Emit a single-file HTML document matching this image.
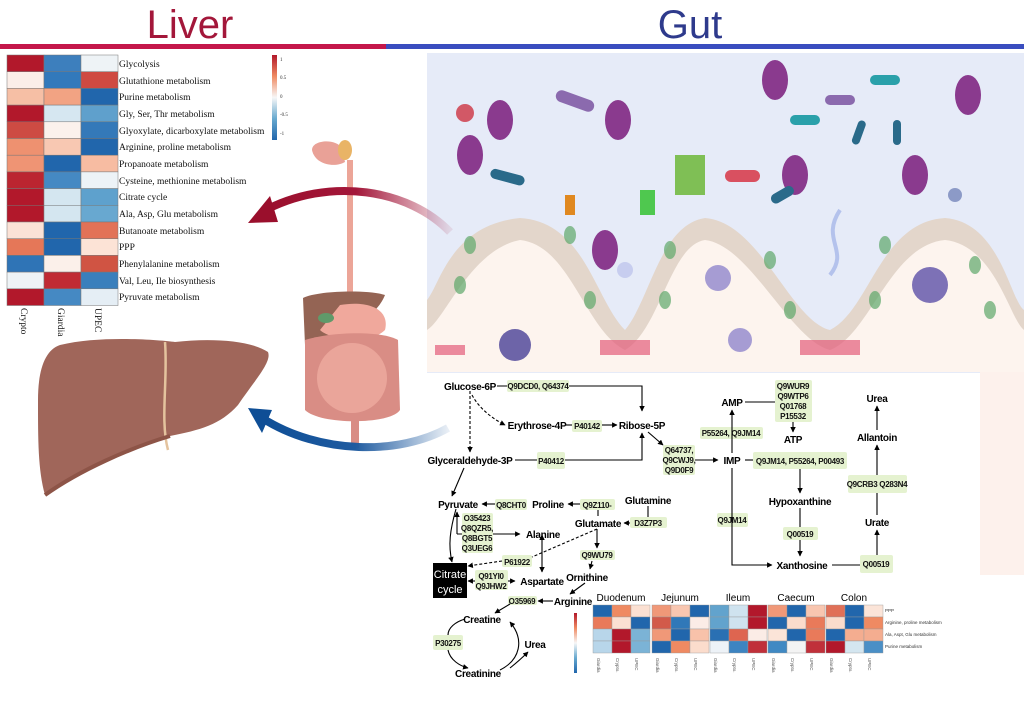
<!DOCTYPE html>
<html><head><meta charset="utf-8"><style>
html,body{margin:0;padding:0;background:#fff}
svg{display:block}
.t{font-family:"Liberation Sans",Arial,sans-serif;font-weight:bold;font-size:10px;letter-spacing:-0.3px;fill:#000}
.p{font-family:"Liberation Sans",Arial,sans-serif;font-weight:bold;font-size:8px;letter-spacing:-0.3px;fill:#111}
.s{font-family:"Liberation Serif",serif;font-size:9.5px;fill:#111}
</style></head><body>
<svg width="1024" height="717" viewBox="0 0 1024 717" xmlns="http://www.w3.org/2000/svg">
<defs>
<marker id="a" viewBox="0 0 10 10" refX="9" refY="5" markerWidth="5" markerHeight="5" orient="auto"><path d="M0,0L10,5L0,10z" fill="#000"/></marker>
<linearGradient id="rg" x1="1" y1="0" x2="0" y2="0"><stop offset="0" stop-color="#a3173a" stop-opacity="0.1"/><stop offset="0.5" stop-color="#a3173a"/><stop offset="1" stop-color="#9a0f2c"/></linearGradient>
<linearGradient id="bg" x1="1" y1="0" x2="0" y2="0"><stop offset="0" stop-color="#1f5ba0" stop-opacity="0.1"/><stop offset="0.5" stop-color="#1f5ba0"/><stop offset="1" stop-color="#0e4e96"/></linearGradient>
<linearGradient id="cb" x1="0" y1="0" x2="0" y2="1"><stop offset="0" stop-color="#b2182b"/><stop offset="0.25" stop-color="#ef8a62"/><stop offset="0.5" stop-color="#f7f7f7"/><stop offset="0.75" stop-color="#67a9cf"/><stop offset="1" stop-color="#2166ac"/></linearGradient>
</defs>
<!-- header -->
<text x="190" y="38" text-anchor="middle" font-family="Liberation Sans,sans-serif" font-size="40" fill="#a3173a">Liver</text>
<text x="690" y="38" text-anchor="middle" font-family="Liberation Sans,sans-serif" font-size="40" fill="#2e3a8c">Gut</text>
<rect x="0" y="44" width="386" height="5" fill="#c4174a"/>
<rect x="386" y="44" width="638" height="5" fill="#3a4dbf"/>

<!-- left heatmap -->
<g stroke="#777" stroke-width="0.5">
<rect x="7" y="55" width="37" height="16.7" fill="#b2182b"/><rect x="44" y="55" width="37" height="16.7" fill="#3d7fbd"/><rect x="81" y="55" width="37" height="16.7" fill="#eef3f6"/>
<rect x="7" y="71.7" width="37" height="16.7" fill="#fbeee8"/><rect x="44" y="71.7" width="37" height="16.7" fill="#3279bb"/><rect x="81" y="71.7" width="37" height="16.7" fill="#cf4a41"/>
<rect x="7" y="88.4" width="37" height="16.7" fill="#f6bfa5"/><rect x="44" y="88.4" width="37" height="16.7" fill="#f2a383"/><rect x="81" y="88.4" width="37" height="16.7" fill="#2166ac"/>
<rect x="7" y="105.1" width="37" height="16.7" fill="#b2182b"/><rect x="44" y="105.1" width="37" height="16.7" fill="#d6e7f1"/><rect x="81" y="105.1" width="37" height="16.7" fill="#5fa0cc"/>
<rect x="7" y="121.8" width="37" height="16.7" fill="#cd4b43"/><rect x="44" y="121.8" width="37" height="16.7" fill="#fbf1ec"/><rect x="81" y="121.8" width="37" height="16.7" fill="#3479b9"/>
<rect x="7" y="138.5" width="37" height="16.7" fill="#ee9170"/><rect x="44" y="138.5" width="37" height="16.7" fill="#f8c8b2"/><rect x="81" y="138.5" width="37" height="16.7" fill="#2166ac"/>
<rect x="7" y="155.2" width="37" height="16.7" fill="#ef9474"/><rect x="44" y="155.2" width="37" height="16.7" fill="#2166ac"/><rect x="81" y="155.2" width="37" height="16.7" fill="#f7bca2"/>
<rect x="7" y="171.9" width="37" height="16.7" fill="#bb2530"/><rect x="44" y="171.9" width="37" height="16.7" fill="#4589c3"/><rect x="81" y="171.9" width="37" height="16.7" fill="#edf3f7"/>
<rect x="7" y="188.6" width="37" height="16.7" fill="#b2182b"/><rect x="44" y="188.6" width="37" height="16.7" fill="#d4e6f0"/><rect x="81" y="188.6" width="37" height="16.7" fill="#5ea1cd"/>
<rect x="7" y="205.3" width="37" height="16.7" fill="#b2182b"/><rect x="44" y="205.3" width="37" height="16.7" fill="#d4e6f0"/><rect x="81" y="205.3" width="37" height="16.7" fill="#68a8d0"/>
<rect x="7" y="222" width="37" height="16.7" fill="#fbe2d6"/><rect x="44" y="222" width="37" height="16.7" fill="#2166ac"/><rect x="81" y="222" width="37" height="16.7" fill="#e27257"/>
<rect x="7" y="238.7" width="37" height="16.7" fill="#e57758"/><rect x="44" y="238.7" width="37" height="16.7" fill="#2166ac"/><rect x="81" y="238.7" width="37" height="16.7" fill="#fce3d6"/>
<rect x="7" y="255.4" width="37" height="16.7" fill="#2f74b6"/><rect x="44" y="255.4" width="37" height="16.7" fill="#fbf0ea"/><rect x="81" y="255.4" width="37" height="16.7" fill="#d05443"/>
<rect x="7" y="272.1" width="37" height="16.7" fill="#eef3f6"/><rect x="44" y="272.1" width="37" height="16.7" fill="#c02a33"/><rect x="81" y="272.1" width="37" height="16.7" fill="#3a7fbc"/>
<rect x="7" y="288.8" width="37" height="16.7" fill="#b2182b"/><rect x="44" y="288.8" width="37" height="16.7" fill="#4589c3"/><rect x="81" y="288.8" width="37" height="16.7" fill="#e5eef5"/>
</g>
<g class="s">
<text x="119" y="67">Glycolysis</text><text x="119" y="84">Glutathione metabolism</text><text x="119" y="100">Purine metabolism</text>
<text x="119" y="117">Gly, Ser, Thr metabolism</text><text x="119" y="134">Glyoxylate, dicarboxylate metabolism</text><text x="119" y="150">Arginine, proline metabolism</text>
<text x="119" y="167">Propanoate metabolism</text><text x="119" y="184">Cysteine, methionine metabolism</text><text x="119" y="200">Citrate cycle</text>
<text x="119" y="217">Ala, Asp, Glu metabolism</text><text x="119" y="234">Butanoate metabolism</text><text x="119" y="250">PPP</text>
<text x="119" y="267">Phenylalanine metabolism</text><text x="119" y="284">Val, Leu, Ile biosynthesis</text><text x="119" y="300">Pyruvate metabolism</text>
<text transform="translate(21,308) rotate(90)">Crypto</text><text transform="translate(58,308) rotate(90)">Giardia</text><text transform="translate(95,308) rotate(90)">UPEC</text>
</g>
<rect x="272" y="55" width="5" height="85" fill="url(#cb)"/>
<g font-family="Liberation Serif" font-size="5" fill="#333"><text x="280" y="61">1</text><text x="280" y="79">0.5</text><text x="280" y="98">0</text><text x="280" y="116">-0.5</text><text x="280" y="135">-1</text></g>

<!-- gut panel -->
<rect x="427" y="53" width="597" height="320" fill="#e6ebf8"/>
<path d="M427,372 L427,300 C440,285 450,225 520,218 C585,222 595,300 625,330 C650,300 660,225 705,218 C760,222 790,320 830,330 C870,310 880,222 945,218 C1000,222 1010,300 1024,310 L1024,372 Z" fill="#e3d6cb"/>
<path d="M427,372 L427,330 C445,320 470,250 520,240 C570,245 585,330 625,350 C660,330 670,245 705,240 C750,245 790,340 830,350 C870,335 890,245 945,240 C995,245 1010,320 1024,330 L1024,372 Z" fill="#fdf4ee"/>
<g fill="#5ea86a" opacity="0.7"><ellipse cx="470" cy="245" rx="6" ry="9"/><ellipse cx="460" cy="285" rx="6" ry="9"/><ellipse cx="570" cy="235" rx="6" ry="9"/><ellipse cx="590" cy="300" rx="6" ry="9"/><ellipse cx="670" cy="250" rx="6" ry="9"/><ellipse cx="665" cy="300" rx="6" ry="9"/><ellipse cx="770" cy="260" rx="6" ry="9"/><ellipse cx="790" cy="310" rx="6" ry="9"/><ellipse cx="885" cy="245" rx="6" ry="9"/><ellipse cx="875" cy="300" rx="6" ry="9"/><ellipse cx="975" cy="265" rx="6" ry="9"/><ellipse cx="990" cy="310" rx="6" ry="9"/></g>
<g fill="#e25c7a" opacity="0.7"><rect x="435" y="345" width="30" height="10"/><rect x="600" y="340" width="50" height="15"/><rect x="800" y="340" width="60" height="15"/></g>
<g fill="#8a3a8e"><ellipse cx="500" cy="120" rx="13" ry="20"/><ellipse cx="470" cy="155" rx="13" ry="20"/><ellipse cx="618" cy="120" rx="13" ry="20"/><ellipse cx="775" cy="80" rx="13" ry="20"/><ellipse cx="795" cy="175" rx="13" ry="20"/><ellipse cx="915" cy="175" rx="13" ry="20"/><ellipse cx="968" cy="95" rx="13" ry="20"/><ellipse cx="605" cy="250" rx="13" ry="20"/></g>
<g fill="#8b6aae"><rect x="555" y="95" width="40" height="12" rx="6" transform="rotate(20 575 101)"/><rect x="825" y="95" width="30" height="10" rx="5"/></g>
<g fill="#2a6a8a"><rect x="490" y="172" width="35" height="10" rx="5" transform="rotate(15 507 177)"/><rect x="855" y="120" width="8" height="25" rx="4" transform="rotate(20 859 132)"/><rect x="893" y="120" width="8" height="25" rx="4"/><rect x="770" y="190" width="25" height="10" rx="5" transform="rotate(-30 782 195)"/></g>
<g fill="#2aa0aa"><rect x="790" y="115" width="30" height="10" rx="5"/><rect x="870" y="75" width="30" height="10" rx="5"/></g>
<rect x="725" y="170" width="35" height="12" rx="6" fill="#d95060"/>
<rect x="675" y="155" width="30" height="40" fill="#7fbf55"/>
<rect x="640" y="190" width="15" height="25" fill="#4fc84f"/>
<rect x="565" y="195" width="10" height="20" fill="#e08820"/>
<circle cx="465" cy="113" r="9" fill="#d25866"/>
<circle cx="625" cy="270" r="8" fill="#c7cdef"/>
<circle cx="718" cy="278" r="13" fill="#a69cd3"/><circle cx="740" cy="340" r="12" fill="#a69cd3"/>
<circle cx="930" cy="285" r="18" fill="#7d71b6"/><circle cx="515" cy="345" r="16" fill="#6d64a8"/>
<circle cx="955" cy="195" r="7" fill="#8c9ac7"/>
<path d="M840,210 C820,240 850,250 830,275" stroke="#b4c2ec" stroke-width="4" fill="none"/>

<rect x="980" y="372" width="44" height="203" fill="#fdf1ec"/>

<!-- liver -->
<path d="M60,345 C100,335 160,340 175,342 C210,338 250,340 268,352 C272,362 255,380 238,405 C220,425 200,430 170,436 C130,445 80,470 45,495 C38,470 38,440 38,400 C38,370 45,350 60,345 Z" fill="#a0665a"/>
<path d="M165,342 C168,380 160,420 168,450" stroke="#e4c39e" stroke-width="2.5" fill="none"/>
<path d="M45,495 C80,470 130,448 170,436" stroke="#8d5447" stroke-width="4" fill="none"/>

<!-- organs -->
<path d="M312,150 C312,140 335,138 342,148 L345,162 C335,168 315,165 312,150Z" fill="#e9a197"/>
<ellipse cx="345" cy="150" rx="7" ry="10" fill="#e9b466"/>
<path d="M350,160 L350,295" stroke="#eca598" stroke-width="6" fill="none"/>
<path d="M303,298 C320,290 370,290 385,295 C375,320 345,330 305,345 Z" fill="#946454"/>
<path d="M340,305 C370,300 390,310 385,330 C370,345 330,340 320,330 Z" fill="#f0a89c"/>
<path d="M305,340 C330,332 380,330 398,340 L400,410 C390,425 320,425 305,410 Z" fill="#d98d85"/>
<ellipse cx="352" cy="378" rx="35" ry="35" fill="#eaa59a"/>
<path d="M355,420 L355,448" stroke="#d98d85" stroke-width="8" fill="none"/>
<ellipse cx="326" cy="318" rx="8" ry="5" fill="#5f9a6a"/>

<!-- arrows -->
<path d="M450,232 C410,190 330,175 262,212" stroke="url(#rg)" stroke-width="8" fill="none"/>
<path d="M248,223 L270,196 L278,222 Z" fill="#9a0f2c"/>
<path d="M448,428 C400,455 320,455 262,418" stroke="url(#bg)" stroke-width="8" fill="none"/>
<path d="M248,408 L272,410 L262,433 Z" fill="#0e4e96"/>

<!-- pathway -->
<g fill="#e5f2d0">
<rect x="507" y="380" width="62" height="12" rx="2"/>
<rect x="572" y="420" width="30" height="12" rx="2"/>
<rect x="537" y="452" width="28" height="17" rx="2"/>
<rect x="663" y="445" width="32" height="30" rx="2"/>
<rect x="753" y="452" width="94" height="17" rx="2"/>
<rect x="775" y="380" width="37" height="42" rx="2"/>
<rect x="700" y="427" width="63" height="12" rx="2"/>
<rect x="848" y="475" width="59" height="18" rx="2"/>
<rect x="783" y="527" width="35" height="13" rx="2"/>
<rect x="860" y="555" width="33" height="18" rx="2"/>
<rect x="717" y="513" width="31" height="14" rx="2"/>
<rect x="495" y="499" width="32" height="11" rx="2"/>
<rect x="580" y="499" width="35" height="11" rx="2"/>
<rect x="630" y="517" width="37" height="11" rx="2"/>
<rect x="462" y="513" width="31" height="40" rx="2"/>
<rect x="502" y="555" width="30" height="12" rx="2"/>
<rect x="580" y="550" width="35" height="10" rx="2"/>
<rect x="475" y="570" width="33" height="20" rx="2"/>
<rect x="508" y="596" width="29" height="9" rx="2"/>
<rect x="433" y="635" width="30" height="15" rx="2"/>
</g>
<rect x="433" y="563" width="34" height="35" fill="#000"/>
<text x="450" y="578" text-anchor="middle" font-family="Liberation Sans" font-size="11" fill="#fff">Citrate</text>
<text x="450" y="593" text-anchor="middle" font-family="Liberation Sans" font-size="11" fill="#fff">cycle</text>

<g stroke="#000" stroke-width="1.1" fill="none">
<path d="M497,386 L507,386 M569,386 L642,386 L642,411" marker-end="url(#a)"/>
<path d="M470,391 L470,452" stroke-dasharray="3,2" marker-end="url(#a)"/>
<path d="M472,395 C480,410 495,420 505,425" stroke-dasharray="3,2" marker-end="url(#a)"/>
<path d="M566,425 L572,425"/><path d="M602,425 L617,425" marker-end="url(#a)"/>
<path d="M515,460 L537,460 M565,460 L642,460 L642,433" marker-end="url(#a)"/>
<path d="M648,432 L663,445" marker-end="url(#a)"/>
<path d="M695,460 L718,460" marker-end="url(#a)"/>
<path d="M745,460 L753,460"/>
<path d="M732,453 L732,410" marker-end="url(#a)"/>
<path d="M745,402 L775,402"/>
<path d="M793,422 L793,432" marker-end="url(#a)"/>
<path d="M800,469 L800,493" marker-end="url(#a)"/>
<path d="M800,508 L800,527 M800,540 L800,556" marker-end="url(#a)"/>
<path d="M732,468 L732,565 L772,565" marker-end="url(#a)"/>
<path d="M832,565 L860,565"/>
<path d="M877,555 L877,530" marker-end="url(#a)"/>
<path d="M877,515 L877,493 M877,475 L877,445" marker-end="url(#a)"/>
<path d="M877,430 L877,406" marker-end="url(#a)"/>
<path d="M464,468 L452,496" marker-end="url(#a)"/>
<path d="M495,504 L482,504" marker-end="url(#a)"/>
<path d="M580,504 L568,504" marker-end="url(#a)"/>
<path d="M598,510 L598,516"/>
<path d="M648,506 L648,517"/>
<path d="M630,523 L624,523" marker-end="url(#a)"/>
<path d="M456,509 C450,530 448,545 452,562" marker-end="url(#a)"/>
<path d="M457,534 L457,512" marker-end="url(#a)"/>
<path d="M457,534 L462,534 M493,534 L520,534" marker-end="url(#a)"/>
<path d="M542,540 L542,572" marker-end="url(#a)"/><path d="M542,540 L542,535" marker-end="url(#a)"/>
<path d="M597,529 L597,548" marker-end="url(#a)"/>
<path d="M597,529 L532,557 M502,561 L468,566" stroke-dasharray="3,2" marker-end="url(#a)"/>
<path d="M592,561 L590,569" marker-end="url(#a)"/>
<path d="M475,581 L468,581" marker-end="url(#a)"/>
<path d="M508,581 L515,581" marker-end="url(#a)"/>
<path d="M585,583 L570,594" marker-end="url(#a)"/>
<path d="M553,601 L538,601" marker-end="url(#a)"/>
<path d="M510,604 L495,613" marker-end="url(#a)"/>
<path d="M465,619 C455,622 448,628 448,635"/>
<path d="M448,650 C450,660 460,666 468,668" marker-end="url(#a)"/>
<path d="M500,670 C520,660 525,640 510,622" marker-end="url(#a)"/>
<path d="M510,668 C520,660 525,655 528,652" marker-end="url(#a)"/>
</g>
<g class="t" text-anchor="middle">
<text x="470" y="390">Glucose-6P</text><text x="537" y="429">Erythrose-4P</text><text x="642" y="429">Ribose-5P</text>
<text x="470" y="464">Glyceraldehyde-3P</text><text x="732" y="464">IMP</text><text x="732" y="406">AMP</text><text x="793" y="443">ATP</text>
<text x="877" y="402">Urea</text><text x="877" y="441">Allantoin</text><text x="877" y="526">Urate</text>
<text x="800" y="505">Hypoxanthine</text><text x="802" y="569">Xanthosine</text>
<text x="458" y="508">Pyruvate</text><text x="548" y="508">Proline</text><text x="648" y="504">Glutamine</text><text x="598" y="527">Glutamate</text>
<text x="543" y="538">Alanine</text><text x="542" y="585">Aspartate</text><text x="587" y="581">Ornithine</text><text x="573" y="605">Arginine</text>
<text x="482" y="623">Creatine</text><text x="535" y="648">Urea</text><text x="478" y="677">Creatinine</text>
</g>
<g class="p" text-anchor="middle">
<text x="538" y="389">Q9DCD0, Q64374</text><text x="587" y="429">P40142</text><text x="551" y="464">P40412</text>
<text x="679" y="453">Q64737,</text><text x="679" y="463">Q9CWJ9,</text><text x="679" y="473">Q9D0F9</text>
<text x="800" y="464">Q9JM14, P55264, P00493</text>
<text x="793" y="389">Q9WUR9</text><text x="793" y="399">Q9WTP6</text><text x="793" y="409">Q01768</text><text x="793" y="419">P15532</text>
<text x="731" y="436">P55264, Q9JM14</text><text x="877" y="487">Q9CRB3 Q283N4</text><text x="800" y="537">Q00519</text><text x="876" y="567">Q00519</text>
<text x="732" y="523">Q9JM14</text><text x="511" y="508">Q8CHT0</text><text x="597" y="508">Q9Z110-</text><text x="648" y="526">D3Z7P3</text>
<text x="477" y="521">O35423</text><text x="477" y="531">Q8QZR5,</text><text x="477" y="541">Q8BGT5</text><text x="477" y="551">Q3UEG6</text>
<text x="517" y="565">P61922</text><text x="597" y="558">Q9WU79</text><text x="491" y="579">Q91YI0</text><text x="491" y="589">Q9JHW2</text>
<text x="522" y="604">O35969</text><text x="448" y="646">P30275</text>
</g>

<!-- bottom heatmap -->
<g font-family="Liberation Sans" font-size="10" fill="#000" text-anchor="middle">
<text x="621" y="601">Duodenum</text><text x="680" y="601">Jejunum</text><text x="738" y="601">Ileum</text><text x="796" y="601">Caecum</text><text x="854" y="601">Colon</text>
</g>
<g stroke="#999" stroke-width="0.4">
<rect x="593" y="605" width="19" height="12" fill="#2166ac"/><rect x="612" y="605" width="19" height="12" fill="#ef8a62"/><rect x="631" y="605" width="19" height="12" fill="#fbe0d2"/>
<rect x="593" y="617" width="19" height="12" fill="#e97a5a"/><rect x="612" y="617" width="19" height="12" fill="#fbe0d2"/><rect x="631" y="617" width="19" height="12" fill="#2166ac"/>
<rect x="593" y="629" width="19" height="12" fill="#b8d6ea"/><rect x="612" y="629" width="19" height="12" fill="#b2182b"/><rect x="631" y="629" width="19" height="12" fill="#7bb3d6"/>
<rect x="593" y="641" width="19" height="12" fill="#b8d6ea"/><rect x="612" y="641" width="19" height="12" fill="#b2182b"/><rect x="631" y="641" width="19" height="12" fill="#7bb3d6"/>
<rect x="652" y="605" width="19" height="12" fill="#f09878"/><rect x="671" y="605" width="19" height="12" fill="#f8c6b0"/><rect x="690" y="605" width="19" height="12" fill="#2166ac"/>
<rect x="652" y="617" width="19" height="12" fill="#d25a4a"/><rect x="671" y="617" width="19" height="12" fill="#3078b8"/><rect x="690" y="617" width="19" height="12" fill="#fbece6"/>
<rect x="652" y="629" width="19" height="12" fill="#f09878"/><rect x="671" y="629" width="19" height="12" fill="#2166ac"/><rect x="690" y="629" width="19" height="12" fill="#f8c2aa"/>
<rect x="652" y="641" width="19" height="12" fill="#2166ac"/><rect x="671" y="641" width="19" height="12" fill="#ef8a62"/><rect x="690" y="641" width="19" height="12" fill="#fbdccc"/>
<rect x="710" y="605" width="19" height="12" fill="#62a3cd"/><rect x="729" y="605" width="19" height="12" fill="#cfe3ef"/><rect x="748" y="605" width="19" height="12" fill="#b2182b"/>
<rect x="710" y="617" width="19" height="12" fill="#62a3cd"/><rect x="729" y="617" width="19" height="12" fill="#cfe3ef"/><rect x="748" y="617" width="19" height="12" fill="#b2182b"/>
<rect x="710" y="629" width="19" height="12" fill="#2a70b3"/><rect x="729" y="629" width="19" height="12" fill="#de6550"/><rect x="748" y="629" width="19" height="12" fill="#fbece6"/>
<rect x="710" y="641" width="19" height="12" fill="#edf2f7"/><rect x="729" y="641" width="19" height="12" fill="#3d84c1"/><rect x="748" y="641" width="19" height="12" fill="#c0303a"/>
<rect x="768" y="605" width="19" height="12" fill="#f09878"/><rect x="787" y="605" width="19" height="12" fill="#2166ac"/><rect x="806" y="605" width="19" height="12" fill="#f8c6b0"/>
<rect x="768" y="617" width="19" height="12" fill="#2166ac"/><rect x="787" y="617" width="19" height="12" fill="#fbdccc"/><rect x="806" y="617" width="19" height="12" fill="#e97a5a"/>
<rect x="768" y="629" width="19" height="12" fill="#fbe4d8"/><rect x="787" y="629" width="19" height="12" fill="#2166ac"/><rect x="806" y="629" width="19" height="12" fill="#e97a5a"/>
<rect x="768" y="641" width="19" height="12" fill="#4089c3"/><rect x="787" y="641" width="19" height="12" fill="#f4f4f4"/><rect x="806" y="641" width="19" height="12" fill="#c0303a"/>
<rect x="826" y="605" width="19" height="12" fill="#e07058"/><rect x="845" y="605" width="19" height="12" fill="#2166ac"/><rect x="864" y="605" width="19" height="12" fill="#fbe4d8"/>
<rect x="826" y="617" width="19" height="12" fill="#fbdccc"/><rect x="845" y="617" width="19" height="12" fill="#2166ac"/><rect x="864" y="617" width="19" height="12" fill="#ef8a62"/>
<rect x="826" y="629" width="19" height="12" fill="#2166ac"/><rect x="845" y="629" width="19" height="12" fill="#f4ad90"/><rect x="864" y="629" width="19" height="12" fill="#f4ad90"/>
<rect x="826" y="641" width="19" height="12" fill="#b2182b"/><rect x="845" y="641" width="19" height="12" fill="#d4e6f0"/><rect x="864" y="641" width="19" height="12" fill="#4a8fc6"/>
</g>
<g font-family="Liberation Sans" font-size="4.5" fill="#333">
<text x="885" y="612">PPP</text><text x="885" y="624">Arginine, proline metabolism</text><text x="885" y="636">Ala, Aspt, Glu metabolism</text><text x="885" y="648">Purine metabolism</text>
</g>
<rect x="574" y="613" width="3" height="60" fill="url(#cb)"/>
<g font-family="Liberation Sans" font-size="4.5" fill="#555">
<text transform="translate(597,658) rotate(90)">Giardia</text><text transform="translate(616,658) rotate(90)">Crypto.</text><text transform="translate(635,658) rotate(90)">UPEC</text>
<text transform="translate(656,658) rotate(90)">Giardia</text><text transform="translate(675,658) rotate(90)">Crypto.</text><text transform="translate(694,658) rotate(90)">UPEC</text>
<text transform="translate(714,658) rotate(90)">Giardia</text><text transform="translate(733,658) rotate(90)">Crypto.</text><text transform="translate(752,658) rotate(90)">UPEC</text>
<text transform="translate(772,658) rotate(90)">Giardia</text><text transform="translate(791,658) rotate(90)">Crypto.</text><text transform="translate(810,658) rotate(90)">UPEC</text>
<text transform="translate(830,658) rotate(90)">Giardia</text><text transform="translate(849,658) rotate(90)">Crypto.</text><text transform="translate(868,658) rotate(90)">UPEC</text>
</g>
</svg>
</body></html>
